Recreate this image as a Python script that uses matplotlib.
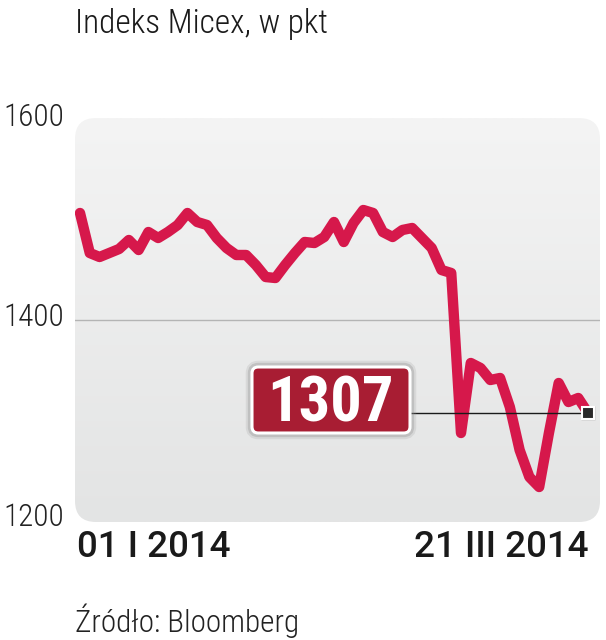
import numpy as np
import matplotlib
matplotlib.use("Agg")
import matplotlib.pyplot as plt
import matplotlib.font_manager as fm
import matplotlib.patheffects as pe
from matplotlib.patches import FancyBboxPatch
from matplotlib.colors import LinearSegmentedColormap

# Micex index, daily close, 01.01.2014 - 21.03.2014
values = [1507, 1467, 1463, 1467, 1471, 1480, 1470, 1488, 1482, 1488,
          1495, 1507, 1498, 1495, 1482, 1472, 1465, 1465, 1455, 1443,
          1442, 1455, 1467, 1478, 1477, 1483, 1498, 1478, 1497, 1510,
          1507, 1488, 1483, 1490, 1492, 1482, 1472, 1450, 1447, 1287,
          1357, 1352, 1340, 1342, 1313, 1270, 1243, 1233, 1287, 1337,
          1318, 1322, 1307]
y_ticks = [1200, 1400, 1600]
date_labels = ["01 I 2014", "21 III 2014"]
last_label = "1307"
title = "Indeks Micex, w pkt"
source = "Źródło: Bloomberg"

RED = "#d6184b"
BOX = "#a81d33"


def pick(names):
    for n in names:
        try:
            fm.findfont(fm.FontProperties(family=n), fallback_to_default=False)
            return n
        except ValueError:
            pass
    return "DejaVu Sans"

cond = pick(["Roboto Condensed", "Liberation Sans Narrow", "DejaVu Sans Condensed", "Roboto"])
reg = pick(["Roboto", "Lato", "Open Sans"])

W, H = 606, 640
fig = plt.figure(figsize=(W / 100, H / 100), dpi=100)
fig.patch.set_facecolor("white")

# axes = rounded grey panel, pixels 75..600 x 118..522
AW, AH = 525, 404
ax = fig.add_axes([75 / W, (H - 522) / H, AW / W, AH / H])
n = len(values)
x = np.arange(n)
step = 508 / (n - 1)
ax.set_xlim(-5 / step, (n - 1) + 12 / step)
ax.set_ylim(1198, 1602)
ax.axis("off")

panel = FancyBboxPatch((0, 0), 1, 1, boxstyle="round,pad=0,rounding_size=0.04",
                       transform=ax.transAxes, facecolor="none", edgecolor="none",
                       mutation_aspect=AW / AH)
ax.add_patch(panel)
grad = np.linspace(0, 1, 256).reshape(-1, 1)
cmap = LinearSegmentedColormap.from_list("g", ["#f4f4f4", "#e3e4e4"])
im = ax.imshow(grad, extent=(0, 1, 0, 1), transform=ax.transAxes, cmap=cmap,
               aspect="auto", zorder=0)
im.set_clip_path(panel)

ax.axhline(1400, color="#b4b4b4", lw=1.0, zorder=1)

ax.plot(x, values, color=RED, lw=7.5, solid_joinstyle="round",
        solid_capstyle="round", zorder=3)

# connector + marker for the last value
ax.plot([25, x[-1]], [values[-1], values[-1]], color="#1a1a1a", lw=1.0, zorder=4)
ax.plot(x[-1], values[-1], marker="s", ms=10, mfc="#c8c8c8", mec="none", zorder=5)
ax.plot(x[-1], values[-1], marker="s", ms=8, mfc="#2a2a2a", mec="white", mew=1.5, zorder=6)

# value box, pixels 252..410 x 367..433
box = FancyBboxPatch(((252 - 75) / AW, (522 - 433) / AH), 158 / AW, 66 / AH,
                     boxstyle="round,pad=0,rounding_size=0.012",
                     mutation_aspect=AW / AH, transform=ax.transAxes,
                     fc=BOX, ec="white", lw=2.2, zorder=7)
box.set_path_effects([
    pe.Stroke(linewidth=9, foreground="#9a9a9a", alpha=0.2),
    pe.Stroke(linewidth=6, foreground="#8a8a8a", alpha=0.3),
    pe.Normal()])
ax.add_patch(box)
ax.text((330 - 75) / AW, (522 - 422) / AH, last_label, transform=ax.transAxes,
        ha="center", va="baseline", color="white", fontsize=45,
        fontweight="bold", family=cond, zorder=8)

# y labels (digits sit a touch above the tick value)
for v in y_ticks:
    ax.text(-72 / AW, v + 2.5, str(v), transform=ax.get_yaxis_transform(),
            ha="left", va="center", fontsize=22.5, color="#222222",
            family=cond, fontweight="light")

fig.text(75 / W, 1 - 33 / H, title, ha="left", va="baseline", fontsize=24,
         color="#1a1a1a", family=cond, fontweight="light")
fig.text(77 / W, 1 - 557 / H, date_labels[0], ha="left", va="baseline",
         fontsize=26.5, color="#1a1a1a", family=reg, fontweight="medium")
fig.text(588 / W, 1 - 557 / H, date_labels[1], ha="right", va="baseline",
         fontsize=26.5, color="#1a1a1a", family=reg, fontweight="medium")
fig.text(75 / W, 1 - 632 / H, source, ha="left", va="baseline", fontsize=22.5,
         color="#222222", family=cond, fontweight="light")

fig.savefig("out.png", dpi=100, facecolor="white")
